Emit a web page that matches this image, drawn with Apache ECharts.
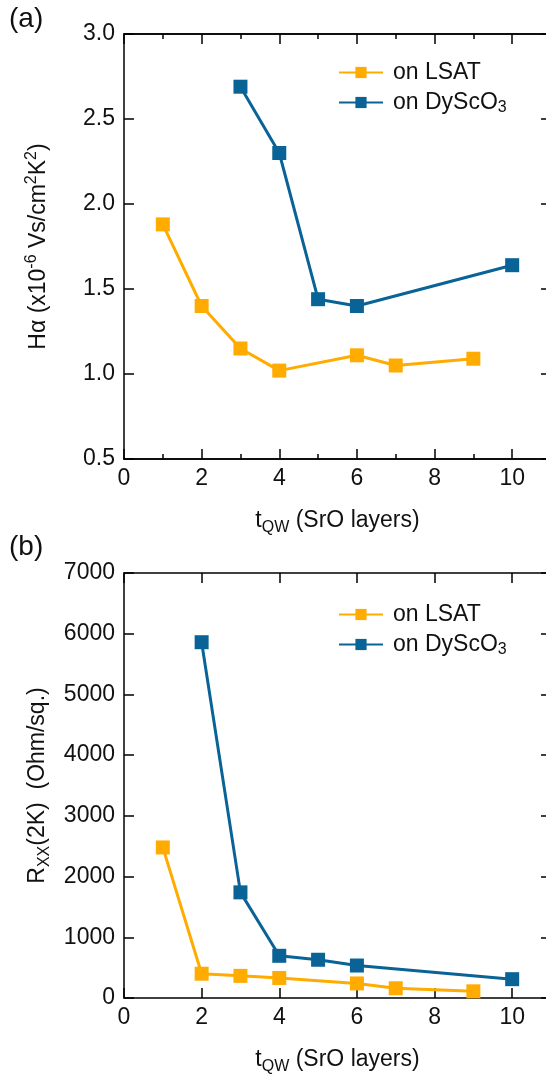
<!DOCTYPE html>
<html>
<head>
<meta charset="utf-8">
<script src="https://cdn.jsdelivr.net/npm/echarts@6/dist/echarts.min.js"></script>
<style>
  html, body { margin: 0; padding: 0; background: #fff; }
</style>
</head>
<body>
<div id="chart" style="width:546px;height:1080px;"></div>
<script>
// thickness (SrO layers)
var lsatX = [1, 2, 3, 4, 6, 7, 9];
var dyX = [3, 4, 5, 6, 10];
// panel (a): H alpha (x10^-6 Vs/cm^2K^2)
var lsatHa = [1.88, 1.40, 1.15, 1.02, 1.11, 1.05, 1.09];
var dyHa = [2.69, 2.30, 1.44, 1.40, 1.64];
// panel (b): Rxx(2K) (Ohm/sq.)
var lsatRxxX = [1, 2, 3, 4, 6, 7, 9];
var lsatRxx = [2480, 400, 365, 330, 240, 160, 110];
var dyRxxX = [2, 3, 4, 5, 6, 10];
var dyRxx = [5860, 1740, 695, 630, 535, 310];

var orange = "#ffab00";
var blue = "#0a6396";
var font = "Liberation Sans, Arial, sans-serif";
var fs = 23;

function pairs(xs, ys) {
  return xs.map(function (x, i) { return [x, ys[i]]; });
}

var chart = echarts.init(document.getElementById("chart"));

// common axis bits
var line = { show: true, onZero: false, lineStyle: { color: "#000", width: 1.5 } };
function xAx(grid, pos, step, len, labels, name) {
  return {
    type: "value", gridIndex: grid, position: pos,
    min: 0, max: 11, interval: step,
    axisLine: line,
    axisTick: { show: true, inside: true, length: len, lineStyle: { color: "#000", width: 1.5 } },
    axisLabel: {
      show: labels, margin: 8, color: "#111", fontSize: fs, fontFamily: font,
      showMaxLabel: false,
      formatter: function (v) { return v % 2 === 0 && v <= 10 ? String(v) : ""; }
    },
    splitLine: { show: false },
    name: name || "", nameLocation: "middle", nameGap: 47,
    nameTextStyle: {
      color: "#111", fontSize: fs, fontFamily: font,
      rich: {
        n: { fontSize: fs, fontFamily: font, color: "#111", lineHeight: 30 },
        sub: { fontSize: 16, fontFamily: font, color: "#111", lineHeight: 30, verticalAlign: "bottom" }
      }
    }
  };
}
function yAx(grid, pos, mn, mx, step, labels, fmt, name) {
  return {
    type: "value", gridIndex: grid, position: pos,
    min: mn, max: mx, interval: step,
    axisLine: line,
    axisTick: { show: true, inside: true, length: 10, lineStyle: { color: "#000", width: 1.5 } },
    axisLabel: { show: labels, margin: 9, color: "#111", fontSize: fs, fontFamily: font, formatter: fmt },
    splitLine: { show: false },
    name: name || "", nameLocation: "middle", nameGap: 70,
    nameTextStyle: {
      color: "#111", fontSize: fs, fontFamily: font,
      rich: {
        n: { fontSize: fs, fontFamily: font, color: "#111", lineHeight: 30 },
        sup: { fontSize: 16, fontFamily: font, color: "#111", lineHeight: 30, verticalAlign: "top" },
        sub: { fontSize: 16, fontFamily: font, color: "#111", lineHeight: 30, verticalAlign: "bottom" }
      }
    }
  };
}

var xTitle = "{n|t}{sub|QW}{n| (SrO layers)}";

var legendRich = {
  n: { fontSize: fs, fontFamily: font, color: "#111", lineHeight: 26 },
  sub: { fontSize: 16, fontFamily: font, color: "#111", lineHeight: 26, verticalAlign: "bottom" }
};
function legend(top) {
  return {
    orient: "vertical", left: 338, top: top, padding: 0,
    itemWidth: 44, itemHeight: 14, itemGap: 7,
    data: ["on LSAT", "on DyScO3"],
    textStyle: { padding: [0, 0, 0, 5], rich: legendRich },
    formatter: function (name) {
      return name === "on DyScO3" ? "{n|on DyScO}{sub|3}" : "{n|" + name + "}";
    }
  };
}

function series(name, color, data, xi, yi) {
  return {
    name: name, type: "line", data: data,
    xAxisIndex: xi, yAxisIndex: yi,
    symbol: "rect", symbolSize: 14,
    lineStyle: { color: color, width: 3 },
    itemStyle: { color: color },
    z: name === "on LSAT" ? 3 : 4
  };
}

chart.setOption({
  animation: false,
  backgroundColor: "#fff",
  grid: [
    { left: 124, top: 34, width: 427, height: 425, outerBoundsMode: "none" },
    { left: 124, top: 573, width: 427, height: 425, outerBoundsMode: "none" }
  ],
  legend: [legend(61), legend(603)],
  xAxis: [
    xAx(0, "bottom", 2, 10, true, xTitle),
    xAx(0, "bottom", 1, 5, false),
    xAx(0, "top", 2, 10, false),
    xAx(0, "top", 1, 5, false),
    xAx(1, "bottom", 2, 10, true, xTitle),
    xAx(1, "top", 2, 10, false)
  ],
  yAxis: [
    yAx(0, "left", 0.5, 3.0, 0.5, true, function (v) { return v.toFixed(1); },
      "{n|Hα (x10}{sup|-6}{n| Vs/cm}{sup|2}{n|K}{sup|2}{n|)}"),
    yAx(0, "right", 0.5, 3.0, 0.5, false),
    yAx(1, "left", 0, 7000, 1000, true, function (v) { return String(v); },
      "{n|R}{sub|XX}{n|(2K)  (Ohm/sq.)}"),
    yAx(1, "right", 0, 7000, 1000, false)
  ],
  graphic: [
    { type: "text", left: 9, top: 5, style: { text: "(a)", fontSize: 28, fontFamily: font, fill: "#111" } },
    { type: "text", left: 9, top: 533, style: { text: "(b)", fontSize: 28, fontFamily: font, fill: "#111" } }
  ],
  series: [
    series("on LSAT", orange, pairs(lsatX, lsatHa), 0, 0),
    series("on DyScO3", blue, pairs(dyX, dyHa), 0, 0),
    series("on LSAT", orange, pairs(lsatRxxX, lsatRxx), 4, 2),
    series("on DyScO3", blue, pairs(dyRxxX, dyRxx), 4, 2)
  ]
});
</script>
</body>
</html>
